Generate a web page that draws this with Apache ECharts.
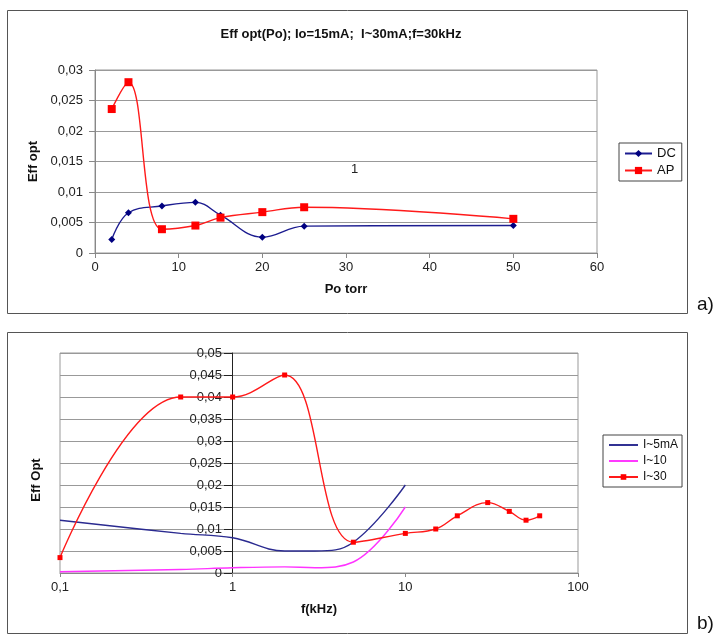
<!DOCTYPE html>
<html lang="en">
<head>
<meta charset="UTF-8">
<title>Eff opt</title>
<script src="https://cdn.jsdelivr.net/npm/echarts@6/dist/echarts.min.js"></script>
<style>
  html, body { margin: 0; padding: 0; background: #ffffff; overflow: hidden; }
  #chart { width: 720px; height: 637px; }
</style>
</head>
<body>
<div id="chart"></div>
<script>
  // a) Eff opt vs Po (torr)
  var poTorr = [2, 4, 8, 12, 15, 20, 25, 50];
  var effDC  = [0.0022, 0.0066, 0.0077, 0.0083, 0.0062, 0.0026, 0.0044, 0.0045];
  var effAP  = [0.0236, 0.028, 0.0039, 0.0045, 0.0058, 0.0067, 0.0075, 0.0056];

  // b) Eff Opt vs f (kHz)
  var freqLow = [0.1, 0.5, 1, 2, 3, 5, 10];
  var effI5   = [0.012, 0.009, 0.008, 0.005, 0.005, 0.007, 0.02];
  var effI10  = [0.0003, 0.0008, 0.0012, 0.0014, 0.0012, 0.0025, 0.015];
  var freqI30 = [0.1, 0.5, 1, 2, 5, 10, 15, 20, 30, 40, 50, 60];
  var effI30  = [0.0035, 0.04, 0.04, 0.045, 0.007, 0.009, 0.010, 0.013, 0.016, 0.014, 0.012, 0.013];

  var FONT = '"Liberation Sans", Arial, sans-serif';
  var SMOOTH = 0.4;

  function pairs(xs, ys) {
    return xs.map(function (x, i) { return [x, ys[i]]; });
  }
  // decimal comma like the original
  function comma(v) {
    return String(parseFloat(Number(v).toPrecision(6))).replace('.', ',');
  }

  var chart = echarts.init(document.getElementById('chart'));

  var axisText = { color: '#222', fontSize: 13, fontFamily: FONT };
  var nameText = { color: '#111', fontSize: 13, fontWeight: 'bold', fontFamily: FONT };
  var lineOnly = 'path://M0 0H30V2H0Z';

  var option = {
    animation: false,
    textStyle: { fontFamily: FONT },
    title: {
      text: 'Eff opt(Po); Io=15mA;  I~30mA;f=30kHz',
      left: 336,
      top: 23,
      textAlign: 'center',
      textStyle: { fontSize: 13, fontWeight: 'bold', color: '#111', fontFamily: FONT }
    },
    legend: [
      {
        data: ['DC', 'AP'],
        orient: 'vertical',
        left: 619,
        top: 143,
        padding: [4, 6, 4, 5],
        itemGap: 4,
        itemWidth: 27,
        itemHeight: 9,
        borderColor: '#444',
        borderWidth: 1,
        textStyle: { fontSize: 13, color: '#111', fontFamily: FONT }
      },
      {
        data: [
          { name: 'I~5mA', icon: lineOnly },
          { name: 'I~10', icon: lineOnly },
          'I~30'
        ],
        orient: 'vertical',
        left: 603,
        top: 435,
        padding: [4, 4, 4, 5],
        itemGap: 4,
        itemWidth: 29,
        itemHeight: 7,
        borderColor: '#444',
        borderWidth: 1,
        textStyle: { fontSize: 12, color: '#111', fontFamily: FONT }
      }
    ],
    grid: [
      { left: 95, top: 70, width: 502, height: 183, show: true, borderColor: '#999', borderWidth: 1, outerBoundsMode: 'none' },
      { left: 60, top: 353, width: 518, height: 220, show: true, borderColor: '#999', borderWidth: 1, outerBoundsMode: 'none' }
    ],
    xAxis: [
      {
        gridIndex: 0,
        type: 'value',
        min: 0,
        max: 60,
        interval: 10,
        name: 'Po torr',
        nameLocation: 'middle',
        nameGap: 30,
        nameTextStyle: nameText,
        axisLine: { lineStyle: { color: '#888' } },
        axisTick: { show: true, length: 5, lineStyle: { color: '#888' } },
        axisLabel: axisText,
        splitLine: { show: false }
      },
      {
        gridIndex: 1,
        type: 'log',
        logBase: 10,
        min: 0.1,
        max: 100,
        name: 'f(kHz)',
        nameLocation: 'middle',
        nameGap: 30,
        nameTextStyle: nameText,
        axisLine: { onZero: false, lineStyle: { color: '#888' } },
        axisTick: { show: true, length: 4, lineStyle: { color: '#888' } },
        axisLabel: Object.assign({ formatter: comma }, axisText),
        splitLine: { show: false },
        minorTick: { show: false }
      }
    ],
    yAxis: [
      {
        gridIndex: 0,
        type: 'value',
        min: 0,
        max: 0.03,
        interval: 0.005,
        name: 'Eff opt',
        nameLocation: 'middle',
        nameGap: 52,
        nameTextStyle: nameText,
        axisLine: { show: true, lineStyle: { color: '#888' } },
        axisTick: { show: true, length: 6, lineStyle: { color: '#888' } },
        axisLabel: Object.assign({ formatter: comma, margin: 12 }, axisText),
        splitLine: { show: true, lineStyle: { color: '#999' } }
      },
      {
        gridIndex: 1,
        type: 'value',
        min: 0,
        max: 0.05,
        interval: 0.005,
        offset: -172,
        name: 'Eff Opt',
        nameLocation: 'middle',
        nameGap: 189,
        nameTextStyle: Object.assign({ padding: [0, 34, 0, 0] }, nameText),
        axisLine: { show: true, onZero: false, lineStyle: { color: '#222' } },
        axisTick: { show: true, length: 8, lineStyle: { color: '#222' } },
        axisLabel: Object.assign({ formatter: comma, margin: 10 }, axisText),
        splitLine: { show: true, lineStyle: { color: '#999' } }
      }
    ],
    series: [
      {
        name: 'DC',
        type: 'line',
        xAxisIndex: 0,
        yAxisIndex: 0,
        smooth: SMOOTH,
        symbol: 'diamond',
        symbolSize: 7,
        itemStyle: { color: '#000080' },
        lineStyle: { color: '#1c1c90', width: 1.4 },
        data: pairs(poTorr, effDC)
      },
      {
        name: 'AP',
        type: 'line',
        xAxisIndex: 0,
        yAxisIndex: 0,
        smooth: SMOOTH,
        symbol: 'rect',
        symbolSize: 8,
        itemStyle: { color: '#ff0000' },
        lineStyle: { color: '#ff1a1a', width: 1.4 },
        data: pairs(poTorr, effAP)
      },
      {
        name: 'I~5mA',
        type: 'line',
        xAxisIndex: 1,
        yAxisIndex: 1,
        smooth: SMOOTH,
        symbol: 'none',
        itemStyle: { color: '#2a2a90' },
        lineStyle: { color: '#2a2a90', width: 1.4 },
        data: pairs(freqLow, effI5)
      },
      {
        name: 'I~10',
        type: 'line',
        xAxisIndex: 1,
        yAxisIndex: 1,
        smooth: SMOOTH,
        symbol: 'none',
        itemStyle: { color: '#ff33ff' },
        lineStyle: { color: '#ff33ff', width: 1.4 },
        data: pairs(freqLow, effI10)
      },
      {
        name: 'I~30',
        type: 'line',
        xAxisIndex: 1,
        yAxisIndex: 1,
        smooth: SMOOTH,
        symbol: 'rect',
        symbolSize: 5,
        itemStyle: { color: '#ff0000' },
        lineStyle: { color: '#ff1a1a', width: 1.4 },
        data: pairs(freqI30, effI30)
      }
    ],
    graphic: [
      { type: 'rect', shape: { x: 7.5, y: 10.5, width: 680, height: 303 }, style: { fill: 'none', stroke: '#555', lineWidth: 1 }, silent: true },
      { type: 'rect', shape: { x: 7.5, y: 332.5, width: 680, height: 301 }, style: { fill: 'none', stroke: '#555', lineWidth: 1 }, silent: true },
      { type: 'text', left: 351, top: 163, style: { text: '1', fontSize: 13, fill: '#222', fontFamily: FONT }, silent: true },
      { type: 'text', left: 697, top: 295, style: { text: 'a)', fontSize: 19, fill: '#111', fontFamily: FONT }, silent: true },
      { type: 'text', left: 697, top: 614, style: { text: 'b)', fontSize: 19, fill: '#111', fontFamily: FONT }, silent: true }
    ]
  };

  chart.setOption(option);

  window.addEventListener('resize', function () {
    chart.resize();
  });
</script>
</body>
</html>
